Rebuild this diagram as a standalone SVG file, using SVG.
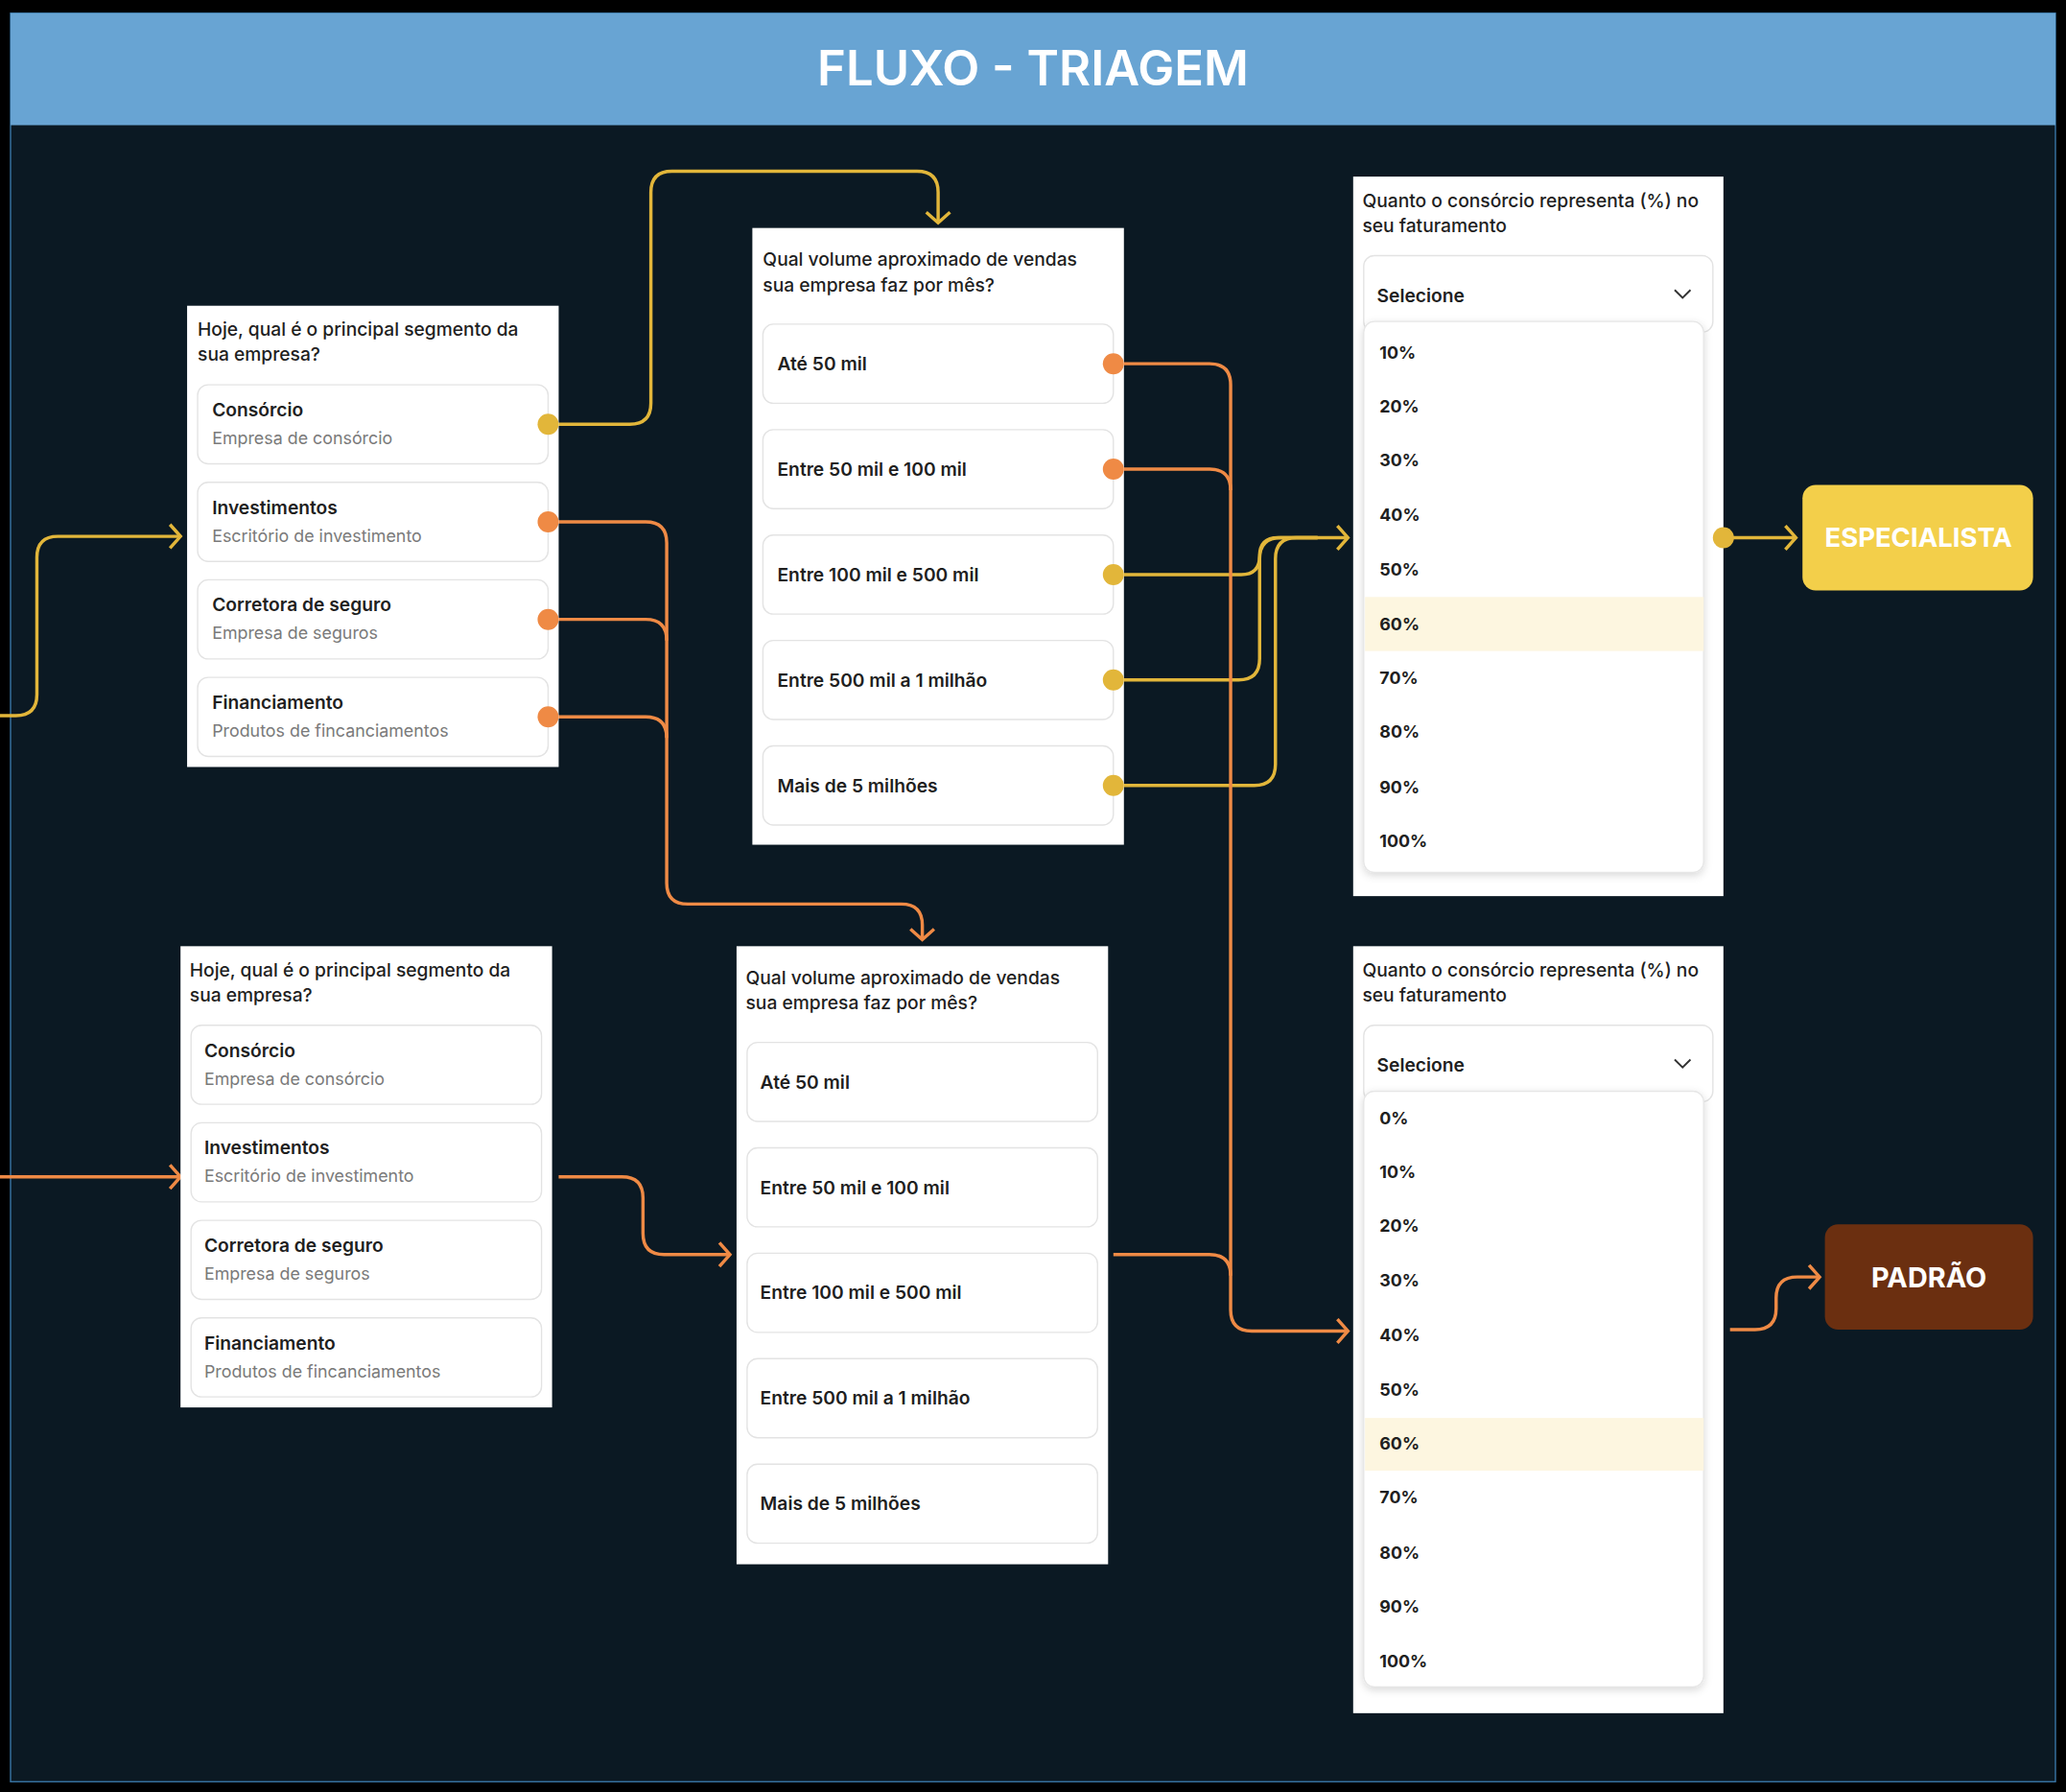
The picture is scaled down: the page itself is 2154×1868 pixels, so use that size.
<svg xmlns="http://www.w3.org/2000/svg" width="2154" height="1868" viewBox="0 0 2154 1868">
<style>
text{font-family:Inter,"Noto Sans","Liberation Sans",sans-serif}
.panel{fill:#fff}
.card{fill:#fff;stroke:#e3e3e3;stroke-width:1}
.q{font-size:14px;font-weight:500;fill:#1f1f1f}
.t{font-size:14px;font-weight:600;fill:#1f1f1f}
.s{font-size:13px;fill:#7a7a7a}
.o{font-size:14px;font-weight:600;fill:#1f1f1f}
.p{font-size:13px;font-weight:700;fill:#1f1f1f}
.y{fill:none;stroke:#e2b63a;stroke-width:2.5}
.r{fill:none;stroke:#ef8a45;stroke-width:2.5}
.dy{fill:#e2b63a}.dr{fill:#ef8a45}
</style>
<defs>
<marker id="ay" markerUnits="userSpaceOnUse" viewBox="-10 -10 20 20" markerWidth="20" markerHeight="20" orient="auto"><path d="M-7 -9 L1 0 L-7 9" fill="none" stroke="#e2b63a" stroke-width="2.5"/></marker>
<marker id="ar" markerUnits="userSpaceOnUse" viewBox="-10 -10 20 20" markerWidth="20" markerHeight="20" orient="auto"><path d="M-7 -9 L1 0 L-7 9" fill="none" stroke="#ef8a45" stroke-width="2.5"/></marker>
<filter id="sh" x="-10%" y="-10%" width="120%" height="120%"><feDropShadow dx="0" dy="2" stdDeviation="3" flood-opacity="0.15"/></filter>
</defs>
<rect width="2154" height="1868" fill="#000"/>
<g transform="scale(1.37372)">
<rect x="8" y="10" width="1552" height="1342" fill="#0b1923" stroke="#3a78a8" stroke-width="1"/>
<g id="header"><rect x="8" y="10" width="1552" height="85" fill="#68a4d3"/>
<text x="784" y="65" text-anchor="middle" font-size="37" font-weight="600" fill="#fff">FLUXO - TRIAGEM</text></g>

<g id="connectors">
<path class="y" d="M0 543 H12 Q28 543 28 527 V423 Q28 407 44 407 H136" marker-end="url(#ay)"/>
<path class="y" d="M416 322 H478 Q494 322 494 306 V146 Q494 130 510 130 H696 Q712 130 712 146 V168" marker-end="url(#ay)"/>
<path class="r" d="M416 396 H490 Q506 396 506 412 V670 Q506 686 522 686 H684 Q700 686 700 702 V712" marker-end="url(#ar)"/>
<path class="r" d="M416 470 H490 Q506 470 506 486"/>
<path class="r" d="M416 544 H490 Q506 544 506 560"/>
<path class="y" d="M845 436 H942 Q956 436 956 422 Q956 408 970 408 H1022" marker-end="url(#ay)"/>
<path class="y" d="M845 516 H940 Q956 516 956 500 V424 Q956 408 972 408 H1000"/>
<path class="y" d="M845 596 H952 Q968 596 968 580 V424 Q968 408 984 408 H1000"/>
<path class="r" d="M845 276 H918 Q934 276 934 292 V994 Q934 1010 950 1010 H1022" marker-end="url(#ar)"/>
<path class="r" d="M845 356 H918 Q934 356 934 372"/>
<path class="r" d="M845 952 H918 Q934 952 934 968"/>
<path class="y" d="M1308 408 H1362" marker-end="url(#ay)"/>
<path class="r" d="M0 893 H136" marker-end="url(#ar)"/>
<path class="r" d="M424 893 H472 Q488 893 488 909 V936 Q488 952 504 952 H553" marker-end="url(#ar)"/>
<path class="r" d="M1313 1009 H1332 Q1348 1009 1348 993 V985 Q1348 969 1364 969 H1380" marker-end="url(#ar)"/>
</g>

<g id="panel-segmento-1">
<rect class="panel" x="142" y="232" width="282" height="350"/>
<text class="q" x="150" y="255">Hoje, qual é o principal segmento da</text>
<text class="q" x="150" y="274">sua empresa?</text>
<rect class="card" x="150" y="292" width="266" height="60" rx="8"/><text class="t" x="161" y="316">Consórcio</text><text class="s" x="161" y="337">Empresa de consórcio</text>
<rect class="card" x="150" y="366" width="266" height="60" rx="8"/><text class="t" x="161" y="390">Investimentos</text><text class="s" x="161" y="411">Escritório de investimento</text>
<rect class="card" x="150" y="440" width="266" height="60" rx="8"/><text class="t" x="161" y="464">Corretora de seguro</text><text class="s" x="161" y="485">Empresa de seguros</text>
<rect class="card" x="150" y="514" width="266" height="60" rx="8"/><text class="t" x="161" y="538">Financiamento</text><text class="s" x="161" y="559">Produtos de fincanciamentos</text>
<circle class="dy" cx="416" cy="322" r="8"/><circle class="dr" cx="416" cy="396" r="8"/><circle class="dr" cx="416" cy="470" r="8"/><circle class="dr" cx="416" cy="544" r="8"/>
</g>

<g id="panel-volume-1">
<rect class="panel" x="571" y="173" width="282" height="468"/>
<text class="q" x="579" y="202">Qual volume aproximado de vendas</text>
<text class="q" x="579" y="221">sua empresa faz por mês?</text>
<rect class="card" x="579" y="246" width="266" height="60" rx="8"/><text class="o" x="590" y="281">Até 50 mil</text>
<rect class="card" x="579" y="326" width="266" height="60" rx="8"/><text class="o" x="590" y="361">Entre 50 mil e 100 mil</text>
<rect class="card" x="579" y="406" width="266" height="60" rx="8"/><text class="o" x="590" y="441">Entre 100 mil e 500 mil</text>
<rect class="card" x="579" y="486" width="266" height="60" rx="8"/><text class="o" x="590" y="521">Entre 500 mil a 1 milhão</text>
<rect class="card" x="579" y="566" width="266" height="60" rx="8"/><text class="o" x="590" y="601">Mais de 5 milhões</text>
<circle class="dr" cx="845" cy="276" r="8"/><circle class="dr" cx="845" cy="356" r="8"/><circle class="dy" cx="845" cy="436" r="8"/><circle class="dy" cx="845" cy="516" r="8"/><circle class="dy" cx="845" cy="596" r="8"/>
</g>

<g id="panel-percent-1">
<rect class="panel" x="1027" y="134" width="281" height="546"/>
<text class="q" x="1034" y="157">Quanto o consórcio representa (%) no</text>
<text class="q" x="1034" y="176">seu faturamento</text>
<rect class="card" x="1035" y="194" width="265" height="58" rx="8"/>
<text class="o" x="1045" y="229" font-weight="500">Selecione</text>
<path d="M1271 220 L1277 226 L1283 220" fill="none" stroke="#333" stroke-width="1.4"/>
<rect x="1035" y="244" width="258" height="418" rx="8" fill="#fff" stroke="#e6e6e6" filter="url(#sh)"/>
<rect x="1036" y="453" width="257" height="41" fill="#fdf6e0"/>
<text class="p" x="1047" y="272">10%</text><text class="p" x="1047" y="313">20%</text><text class="p" x="1047" y="354">30%</text><text class="p" x="1047" y="395">40%</text><text class="p" x="1047" y="437">50%</text><text class="p" x="1047" y="478">60%</text><text class="p" x="1047" y="519">70%</text><text class="p" x="1047" y="560">80%</text><text class="p" x="1047" y="602">90%</text><text class="p" x="1047" y="643">100%</text>
<circle class="dy" cx="1308" cy="408" r="8"/>
</g>

<g id="especialista"><rect x="1368" y="368" width="175" height="80" rx="10" fill="#f3cf4a"/>
<text x="1456" y="415" text-anchor="middle" font-size="20" font-weight="700" fill="#fff">ESPECIALISTA</text></g>

<g id="panel-segmento-2">
<rect class="panel" x="137" y="718" width="282" height="350"/>
<text class="q" x="144" y="741">Hoje, qual é o principal segmento da</text>
<text class="q" x="144" y="760">sua empresa?</text>
<rect class="card" x="145" y="778" width="266" height="60" rx="8"/><text class="t" x="155" y="802">Consórcio</text><text class="s" x="155" y="823">Empresa de consórcio</text>
<rect class="card" x="145" y="852" width="266" height="60" rx="8"/><text class="t" x="155" y="876">Investimentos</text><text class="s" x="155" y="897">Escritório de investimento</text>
<rect class="card" x="145" y="926" width="266" height="60" rx="8"/><text class="t" x="155" y="950">Corretora de seguro</text><text class="s" x="155" y="971">Empresa de seguros</text>
<rect class="card" x="145" y="1000" width="266" height="60" rx="8"/><text class="t" x="155" y="1024">Financiamento</text><text class="s" x="155" y="1045">Produtos de fincanciamentos</text>
</g>

<g id="panel-volume-2">
<rect class="panel" x="559" y="718" width="282" height="469"/>
<text class="q" x="566" y="747">Qual volume aproximado de vendas</text>
<text class="q" x="566" y="766">sua empresa faz por mês?</text>
<rect class="card" x="567" y="791" width="266" height="60" rx="8"/><text class="o" x="577" y="826">Até 50 mil</text>
<rect class="card" x="567" y="871" width="266" height="60" rx="8"/><text class="o" x="577" y="906">Entre 50 mil e 100 mil</text>
<rect class="card" x="567" y="951" width="266" height="60" rx="8"/><text class="o" x="577" y="986">Entre 100 mil e 500 mil</text>
<rect class="card" x="567" y="1031" width="266" height="60" rx="8"/><text class="o" x="577" y="1066">Entre 500 mil a 1 milhão</text>
<rect class="card" x="567" y="1111" width="266" height="60" rx="8"/><text class="o" x="577" y="1146">Mais de 5 milhões</text>
</g>

<g id="panel-percent-2">
<rect class="panel" x="1027" y="718" width="281" height="582"/>
<text class="q" x="1034" y="741">Quanto o consórcio representa (%) no</text>
<text class="q" x="1034" y="760">seu faturamento</text>
<rect class="card" x="1035" y="778" width="265" height="58" rx="8"/>
<text class="o" x="1045" y="813" font-weight="500">Selecione</text>
<path d="M1271 804 L1277 810 L1283 804" fill="none" stroke="#333" stroke-width="1.4"/>
<rect x="1035" y="828" width="258" height="452" rx="8" fill="#fff" stroke="#e6e6e6" filter="url(#sh)"/>
<rect x="1036" y="1076" width="257" height="40" fill="#fdf6e0"/>
<text class="p" x="1047" y="853">0%</text><text class="p" x="1047" y="894">10%</text><text class="p" x="1047" y="935">20%</text><text class="p" x="1047" y="976">30%</text><text class="p" x="1047" y="1018">40%</text><text class="p" x="1047" y="1059">50%</text><text class="p" x="1047" y="1100">60%</text><text class="p" x="1047" y="1141">70%</text><text class="p" x="1047" y="1183">80%</text><text class="p" x="1047" y="1224">90%</text><text class="p" x="1047" y="1265">100%</text>
</g>

<g id="padrao"><rect x="1385" y="929" width="158" height="80" rx="10" fill="#6b2f10"/>
<text x="1464" y="977" text-anchor="middle" font-size="21" font-weight="700" fill="#fff">PADRÃO</text></g>
</g>
</svg>
